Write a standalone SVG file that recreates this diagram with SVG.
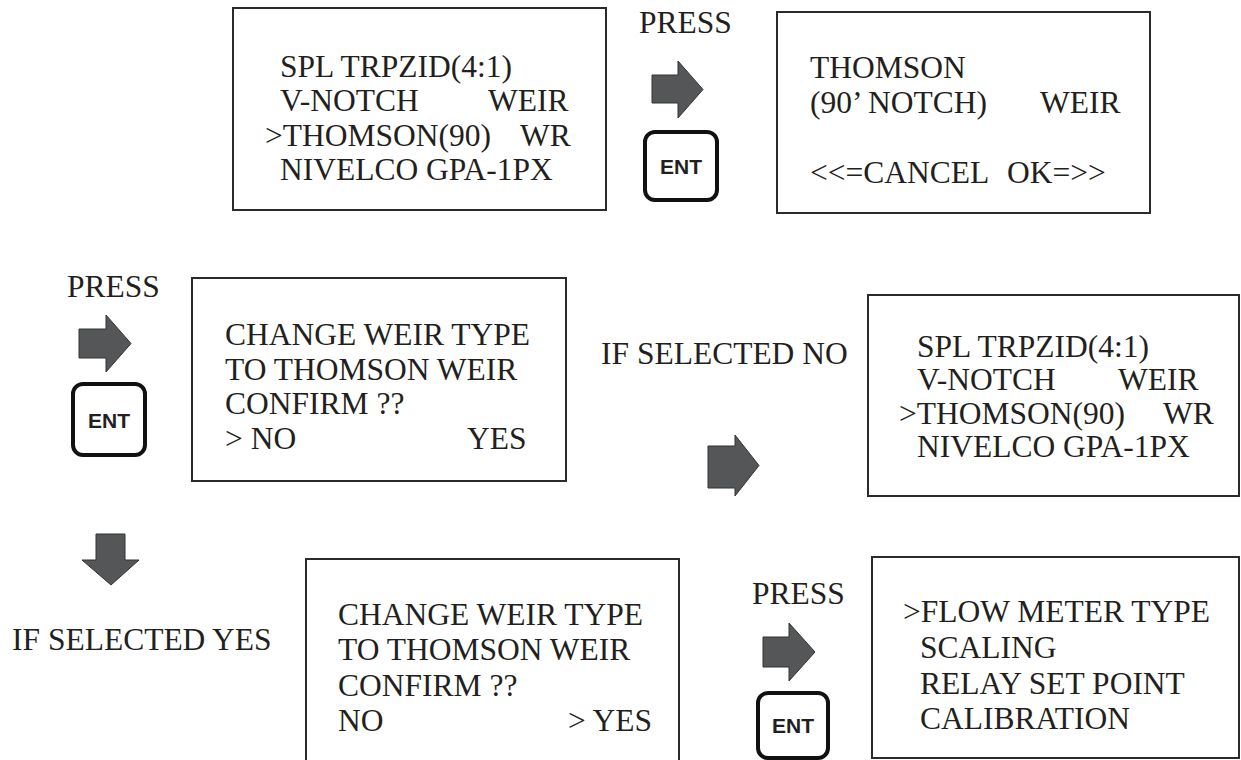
<svg xmlns="http://www.w3.org/2000/svg" width="1241" height="760" viewBox="0 0 1241 760">
<style>
.box{fill:#fff;stroke:#2b2b2b;stroke-width:2}
.t{font-family:"Liberation Serif","Times New Roman",serif;font-size:31.5px;fill:#231f20}
.key{fill:#fff;stroke:#111;stroke-width:4}
.kt{font-family:"Liberation Sans",Arial,sans-serif;font-weight:bold;font-size:21px;fill:#231f20;text-anchor:middle}
.arr{fill:#555657;stroke:#333;stroke-width:1}
</style>
<rect width="1241" height="760" fill="#fff"/>

<g id="screen1">
<rect class="box" x="233" y="8" width="373" height="202"/>
<text class="t" x="280" y="77">SPL TRPZID(4:1)</text>
<text class="t" x="280" y="111">V-NOTCH</text>
<text class="t" x="488" y="111">WEIR</text>
<text class="t" x="265" y="146">&gt;THOMSON(90)</text>
<text class="t" x="520" y="146">WR</text>
<text class="t" x="280" y="180">NIVELCO GPA-1PX</text>
</g>

<g id="press1">
<text class="t" x="639" y="33">PRESS</text>
<rect class="key" x="645" y="132" width="72" height="68" rx="10"/>
<text class="kt" x="681" y="174">ENT</text>
</g>

<g id="screen2">
<rect class="box" x="777" y="12" width="373" height="201"/>
<text class="t" x="810" y="78">THOMSON</text>
<text class="t" x="810" y="113">(90’ NOTCH)</text>
<text class="t" x="1040" y="113">WEIR</text>
<text class="t" x="810" y="183">&lt;&lt;=CANCEL</text>
<text class="t" x="1007" y="183">OK=&gt;&gt;</text>
</g>

<g id="press2">
<text class="t" x="67" y="297">PRESS</text>
<rect class="key" x="73" y="384" width="72" height="71" rx="10"/>
<text class="kt" x="109" y="428">ENT</text>
</g>

<g id="screen3">
<rect class="box" x="192" y="278" width="374" height="203"/>
<text class="t" x="225" y="345">CHANGE WEIR TYPE</text>
<text class="t" x="225" y="380">TO THOMSON WEIR</text>
<text class="t" x="225" y="414">CONFIRM ??</text>
<text class="t" x="225" y="449">&gt; NO</text>
<text class="t" x="467" y="449">YES</text>
</g>

<g id="label-no">
<text class="t" x="601" y="364">IF SELECTED NO</text>
</g>

<g id="screen4">
<rect class="box" x="868" y="295" width="371" height="201"/>
<text class="t" x="917" y="357">SPL TRPZID(4:1)</text>
<text class="t" x="917" y="390">V-NOTCH</text>
<text class="t" x="1118" y="390">WEIR</text>
<text class="t" x="899" y="424">&gt;THOMSON(90)</text>
<text class="t" x="1163" y="424">WR</text>
<text class="t" x="917" y="457">NIVELCO GPA-1PX</text>
</g>

<g id="label-yes">
<text class="t" x="12" y="650">IF SELECTED YES</text>
</g>

<g id="screen5">
<rect class="box" x="306" y="559" width="373" height="210"/>
<text class="t" x="338" y="625">CHANGE WEIR TYPE</text>
<text class="t" x="338" y="660">TO THOMSON WEIR</text>
<text class="t" x="338" y="696">CONFIRM ??</text>
<text class="t" x="338" y="731">NO</text>
<text class="t" x="568" y="731">&gt; YES</text>
</g>

<g id="press3">
<text class="t" x="752" y="604">PRESS</text>
<rect class="key" x="758" y="693" width="70" height="65" rx="10"/>
<text class="kt" x="793" y="733">ENT</text>
</g>

<g id="screen6">
<rect class="box" x="872" y="557" width="367" height="201"/>
<text class="t" x="903" y="622">&gt;FLOW METER TYPE</text>
<text class="t" x="920" y="658">SCALING</text>
<text class="t" x="920" y="694">RELAY SET POINT</text>
<text class="t" x="920" y="729">CALIBRATION</text>
</g>

<g id="connectors">
<polygon class="arr" points="652,75 678,75 678,61 703,89.5 678,118 678,103 652,103"/>
<polygon class="arr" points="79,329 106,329 106,315 131,343.5 106,372 106,358 79,358"/>
<polygon class="arr" points="708,446 735,446 735,435 759,465.5 735,496 735,488 708,488"/>
<polygon class="arr" points="96,534 125,534 125,560 139,560 111,585 82,560 96,560"/>
<polygon class="arr" points="763,637 789,637 789,623 815,652 789,681 789,667 763,667"/>
</g>
</svg>
